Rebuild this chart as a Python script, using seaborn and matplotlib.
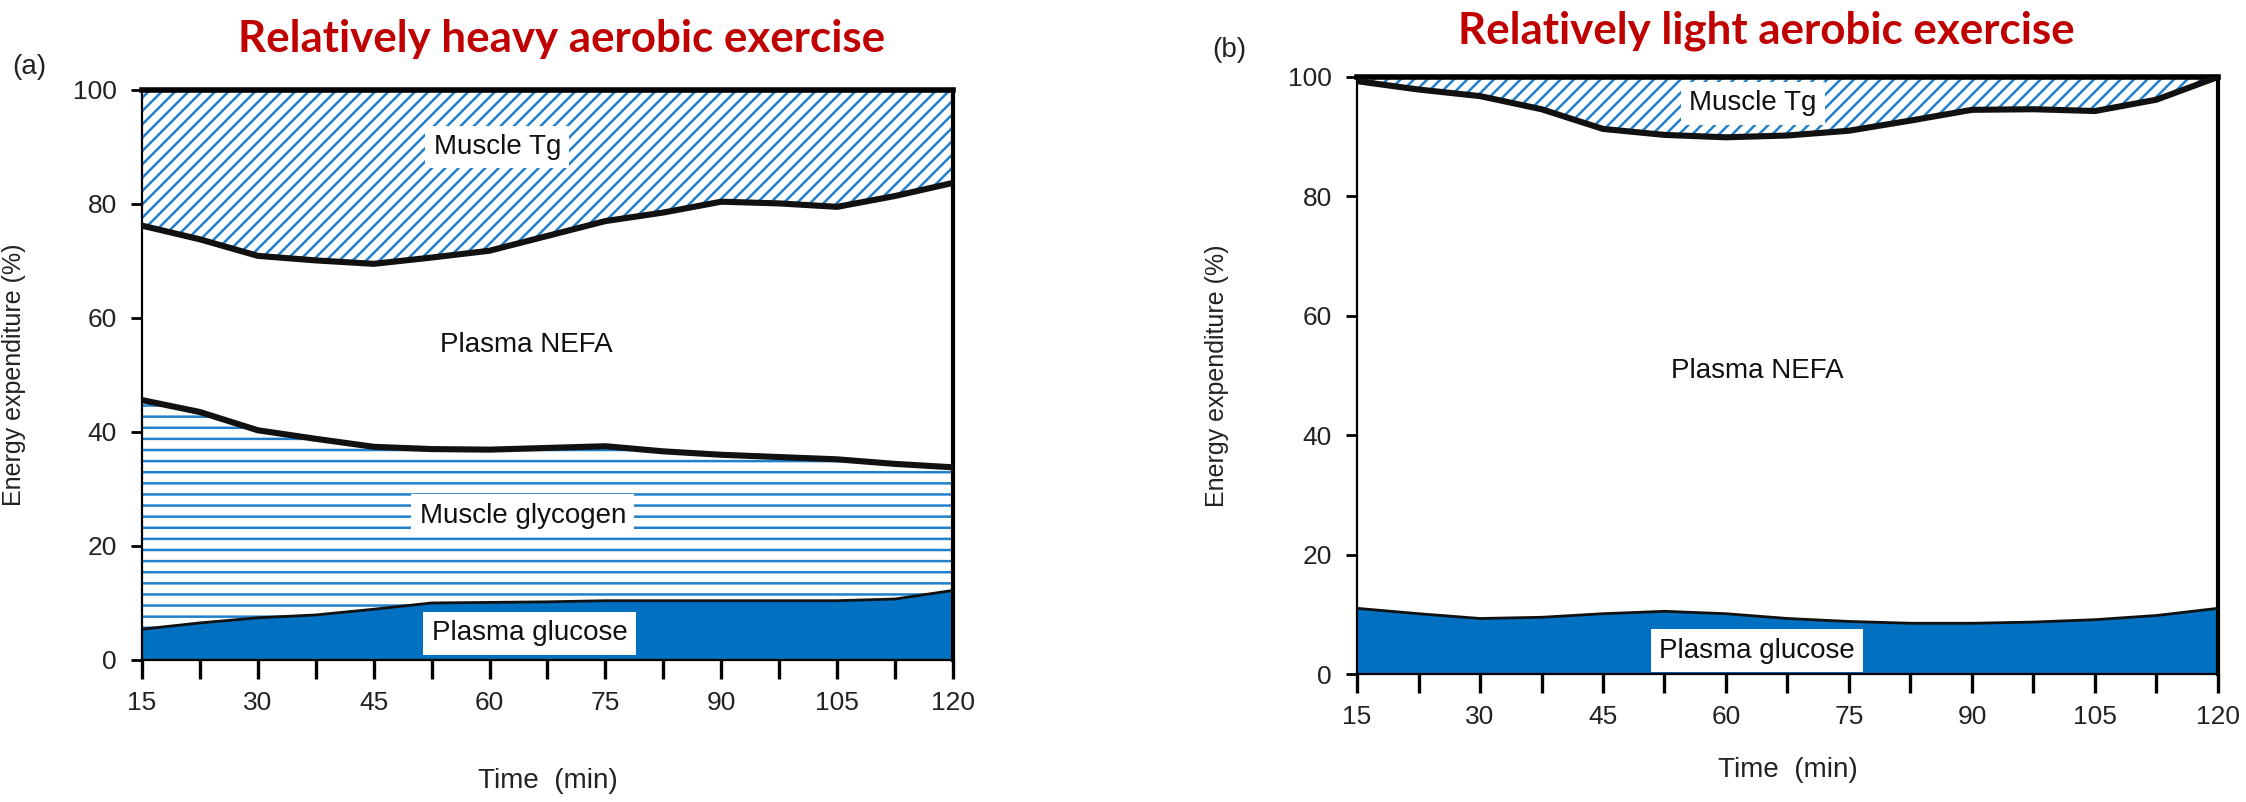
import matplotlib
matplotlib.use('Agg')
import matplotlib.pyplot as plt
import seaborn as sns
import pandas as pd

# time points (min)
time_min = [15, 22.5, 30, 37.5, 45, 52.5, 60, 67.5, 75, 82.5, 90, 97.5, 105, 112.5, 120]

# (a) relatively heavy exercise - cumulative upper boundaries (%)
heavy_glucose = [5.4, 6.5, 7.4, 7.9, 8.9, 10.0, 10.1, 10.2, 10.4, 10.4, 10.4, 10.4, 10.4, 10.7, 12.2]
heavy_glycogen = [45.6, 43.5, 40.3, 38.8, 37.4, 37.0, 36.9, 37.2, 37.5, 36.6, 36.0, 35.6, 35.2, 34.4, 33.8]
heavy_nefa = [76.2, 73.8, 70.9, 70.1, 69.5, 70.6, 71.8, 74.4, 77.0, 78.5, 80.4, 80.1, 79.5, 81.4, 83.7]

# (b) relatively light exercise
light_glucose = [11.0, 10.1, 9.3, 9.5, 10.1, 10.5, 10.1, 9.3, 8.8, 8.5, 8.5, 8.7, 9.1, 9.8, 11.0]
light_nefa = [99.3, 97.9, 96.8, 94.6, 91.3, 90.3, 89.9, 90.2, 91.0, 92.7, 94.5, 94.6, 94.3, 96.2, 100.0]

x_ticks = [15, 30, 45, 60, 75, 90, 105, 120]
y_ticks = [0, 20, 40, 60, 80, 100]

BLUE = '#0070C0'
HATCH_BLUE = '#2080CC'
RED = '#C00000'
SANS = ['Liberation Sans', 'DejaVu Sans']

sns.set_style('white')
plt.rcParams['font.family'] = SANS
plt.rcParams['hatch.linewidth'] = 0.9

fig = plt.figure(figsize=(11.23, 4.01), dpi=200)
ax_a = fig.add_axes([0.0632, 0.1771, 0.3611, 0.7107])
ax_b = fig.add_axes([0.6042, 0.1596, 0.3833, 0.7444])

df_a = pd.DataFrame({'t': time_min, 'glucose': heavy_glucose,
                     'glycogen': heavy_glycogen, 'nefa': heavy_nefa})
df_b = pd.DataFrame({'t': time_min, 'glucose': light_glucose, 'nefa': light_nefa})


def style_axes(ax, xlab_y):
    ax.set_xlim(15, 120)
    ax.set_ylim(0, 100)
    ax.set_xticks(x_ticks)
    ax.set_xticks([t + 7.5 for t in x_ticks[:-1]], minor=True)
    ax.set_yticks(y_ticks)
    ax.tick_params(axis='x', which='both', direction='out', length=7, width=1.2,
                   bottom=True, labelsize=9.5, pad=4, color='black')
    ax.tick_params(axis='y', direction='out', length=4, width=1.0, left=True,
                   labelsize=9.5, pad=5, color='black')
    for lab in ax.get_xticklabels() + ax.get_yticklabels():
        lab.set_color('#222222')
    ax.set_xlabel('Time  (min)', fontsize=10, color='#222222')
    ax.xaxis.set_label_coords(0.5, xlab_y)
    ax.set_ylabel('Energy expenditure (%)', fontsize=9, color='#222222')
    for side, lw in [('left', 0.8), ('bottom', 0.8), ('right', 1.5), ('top', 2.0)]:
        ax.spines[side].set_visible(True)
        ax.spines[side].set_color('black')
        ax.spines[side].set_linewidth(lw)
    ax.grid(False)


def box_label(ax, x, y, text, boxed=True):
    kw = dict(ha='center', va='center', fontsize=10, color='#111111', zorder=6)
    if boxed:
        kw['bbox'] = dict(boxstyle='square,pad=0.3', fc='white', ec='none')
    ax.text(x, y, text, **kw)


# ---- panel (a) ----
ax = ax_a
ax.fill_between(df_a['t'], 0, df_a['glucose'], color=BLUE, lw=0, zorder=1)
ax.fill_between(df_a['t'], df_a['glucose'], df_a['glycogen'], facecolor='white',
                edgecolor=HATCH_BLUE, hatch='---', lw=0, zorder=1)
ax.fill_between(df_a['t'], df_a['nefa'], 100, facecolor='white',
                edgecolor=HATCH_BLUE, hatch='/////', lw=0, zorder=1)
sns.lineplot(data=df_a, x='t', y='glucose', ax=ax, color='#111111', lw=1.0, zorder=3)
sns.lineplot(data=df_a, x='t', y='glycogen', ax=ax, color='#111111', lw=2.2, zorder=3)
sns.lineplot(data=df_a, x='t', y='nefa', ax=ax, color='#111111', lw=2.2, zorder=3)
style_axes(ax, -0.19)
ax.yaxis.set_label_coords(-0.143, 0.5)
box_label(ax, 61, 90, 'Muscle Tg')
box_label(ax, 64.7, 55.2, 'Plasma NEFA', boxed=False)
box_label(ax, 64.3, 25.3, 'Muscle glycogen')
box_label(ax, 65.2, 4.7, 'Plasma glucose')

# ---- panel (b) ----
ax = ax_b
ax.fill_between(df_b['t'], 0, df_b['glucose'], color=BLUE, lw=0, zorder=1)
ax.fill_between(df_b['t'], df_b['nefa'], 100, facecolor='white',
                edgecolor=HATCH_BLUE, hatch='/////', lw=0, zorder=1)
sns.lineplot(data=df_b, x='t', y='glucose', ax=ax, color='#111111', lw=1.0, zorder=3)
sns.lineplot(data=df_b, x='t', y='nefa', ax=ax, color='#111111', lw=2.2, zorder=3)
style_axes(ax, -0.139)
ax.yaxis.set_label_coords(-0.149, 0.5)
box_label(ax, 63.3, 95.6, 'Muscle Tg')
box_label(ax, 63.8, 50.7, 'Plasma NEFA', boxed=False)
box_label(ax, 63.8, 3.9, 'Plasma glucose')

# panel tags and titles
fig.text(29 / 2246, 1 - 67 / 802, '(a)', fontsize=10, ha='center', va='center', color='#222222')
fig.text(1229 / 2246, 1 - 50 / 802, '(b)', fontsize=10, ha='center', va='center', color='#222222')
fig.text(562 / 2246, 1 - 39 / 802, 'Relatively heavy aerobic exercise', fontsize=15.8,
         fontweight='bold', color=RED, ha='center', va='center', family=['Lato', 'DejaVu Sans'])
fig.text(1766 / 2246, 1 - 31 / 802, 'Relatively light aerobic exercise', fontsize=15.8,
         fontweight='bold', color=RED, ha='center', va='center', family=['Lato', 'DejaVu Sans'])

fig.savefig('out.png', dpi=200, facecolor='white')
